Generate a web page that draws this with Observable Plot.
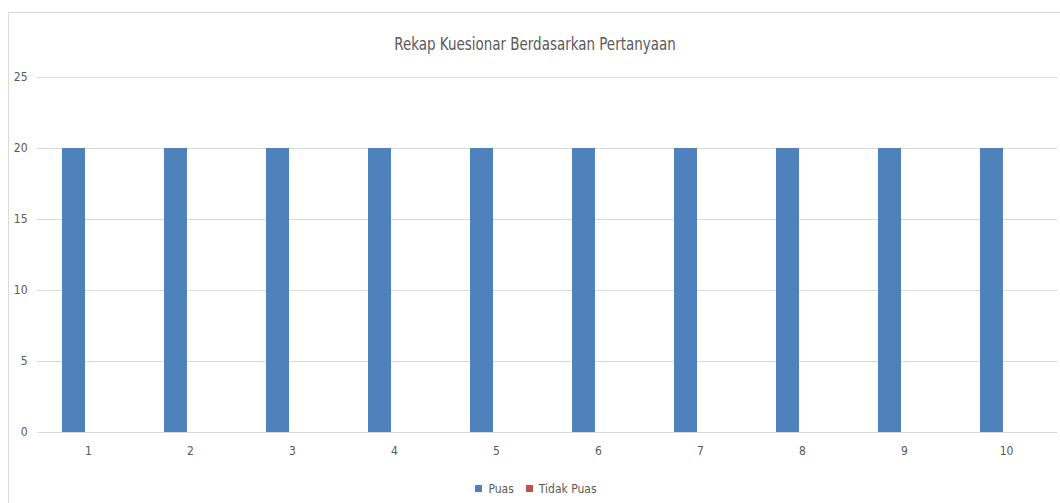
<!DOCTYPE html>
<html>
<head>
<meta charset="utf-8">
<script src="https://cdn.jsdelivr.net/npm/d3@7"></script>
<script src="https://cdn.jsdelivr.net/npm/@observablehq/plot@0.6"></script>
<style>
  html, body { margin: 0; padding: 0; background: #fff; }
  body { width: 1060px; height: 503px; position: relative; overflow: hidden;
         font-family: "Liberation Sans Narrow", "DejaVu Sans Condensed", sans-serif; }
  #frame { position: absolute; left: 8px; top: 12px; width: 1060px; height: 500px;
           border: 1px solid #d9d9d9; box-sizing: border-box; }
  #title { position: absolute; left: 0; top: 34px; width: 1070px; text-align: center;
           font-size: 17px; color: #595959; transform: scaleX(0.88); transform-origin: 535px 0; }
  #chart { position: absolute; left: 0; top: 0; }
  #legend { position: absolute; left: 0; top: 472px; width: 1084px; display: flex; justify-content: center; }
</style>
</head>
<body>
<div id="frame"></div>
<div id="title">Rekap Kuesionar Berdasarkan Pertanyaan</div>
<div id="chart"></div>
<div id="legend"></div>
<script>
const questions = ["1","2","3","4","5","6","7","8","9","10"];
const series = ["Puas", "Tidak Puas"];
const puas = [20,20,20,20,20,20,20,20,20,20];
const tidakPuas = [0,0,0,0,0,0,0,0,0,0];
const yTicks = [0,5,10,15,20,25];
const colors = ["#4f81bd", "#c0504d"];

const data = [];
questions.forEach((q, i) => {
  data.push({q, s: series[0], v: puas[i]});
  data.push({q, s: series[1], v: tidakPuas[i]});
});

const font = '"Liberation Sans Narrow", "DejaVu Sans Condensed", sans-serif';

const chart = Plot.plot({
  width: 1060,
  height: 470,
  marginLeft: 37,
  marginRight: 3,
  marginTop: 77,
  marginBottom: 38,
  style: {fontFamily: font, fontSize: "12px", color: "#595959", background: "transparent"},
  fx: {domain: questions, paddingInner: 0, paddingOuter: 0, label: null, axis: null},
  x: {domain: series, paddingInner: 0, paddingOuter: 1.2, axis: null},
  y: {domain: [0, 25], ticks: yTicks, label: null, axis: null},
  color: {domain: series, range: colors},
  marks: [
    Plot.gridY(yTicks.filter(d => d > 0), {stroke: "#d9d9d9", strokeOpacity: 1}),
    Plot.axisY(yTicks, {tickSize: 0, tickPadding: 10, label: null, fill: "#595959"}),
    Plot.axisFx({anchor: "bottom", tickSize: 0, tickPadding: 14, label: null, fill: "#595959"}),
    Plot.barY(data, {fx: "q", x: "s", y: "v", fill: "s", dx: -3}),
    Plot.ruleY([0], {stroke: "#d9d9d9", strokeWidth: 1.2})
  ]
});
document.getElementById("chart").appendChild(chart);

const legend = Plot.legend({
  color: {domain: series, range: colors},
  legend: "swatches",
  swatchSize: 7,
  style: {fontFamily: font, fontSize: "12px", color: "#595959"}
});
document.getElementById("legend").appendChild(legend);
</script>
</body>
</html>
